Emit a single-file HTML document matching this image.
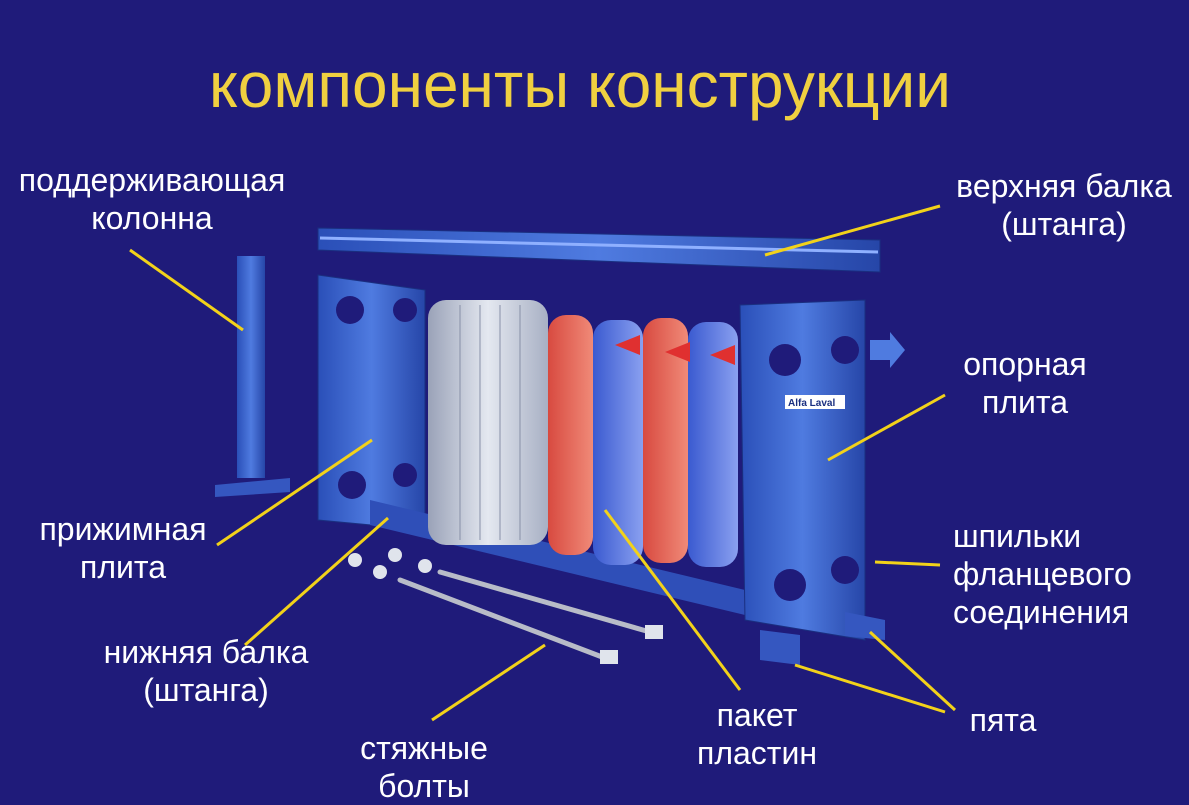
<!DOCTYPE html>
<html><head><meta charset="utf-8"><style>
html,body{margin:0;padding:0;width:1189px;height:797px;overflow:hidden;background:#1f1b7a;}
.t{position:absolute;font-family:"Liberation Sans",sans-serif;color:#fff;font-size:32px;line-height:38px;text-align:center;white-space:nowrap}
</style></head><body>
<svg width="1189" height="797" style="position:absolute;left:0;top:0">
<defs>
<linearGradient id="bl" x1="0" x2="1"><stop offset="0" stop-color="#2a4fb8"/><stop offset="0.5" stop-color="#4f7be0"/><stop offset="1" stop-color="#2646a8"/></linearGradient>
<linearGradient id="gr" x1="0" x2="1"><stop offset="0" stop-color="#9aa2b8"/><stop offset="0.5" stop-color="#e4e8f0"/><stop offset="1" stop-color="#a8b0c4"/></linearGradient>
<linearGradient id="rd" x1="0" x2="1"><stop offset="0" stop-color="#d84a40"/><stop offset="1" stop-color="#f08a78"/></linearGradient>
<linearGradient id="bb" x1="0" x2="1"><stop offset="0" stop-color="#3a5ad0"/><stop offset="1" stop-color="#8aa0f0"/></linearGradient>
</defs>
<polygon points="318,228 880,240 880,272 318,250" fill="url(#bl)" stroke="#1a2f80"/>
<line x1="320" y1="238" x2="878" y2="252" stroke="#8fb0ff" stroke-width="3"/>
<rect x="237" y="256" width="28" height="222" fill="url(#bl)"/>
<polygon points="215,485 290,478 290,492 215,497" fill="#3557c0"/>
<polygon points="318,275 425,290 425,530 318,520" fill="url(#bl)" stroke="#1a2f80"/>
<circle cx="350" cy="310" r="14" fill="#1f1b7a"/><circle cx="405" cy="310" r="12" fill="#1f1b7a"/>
<circle cx="352" cy="485" r="14" fill="#1f1b7a"/><circle cx="405" cy="475" r="12" fill="#1f1b7a"/>
<polygon points="370,500 745,590 745,615 370,525" fill="#2f4fb8"/>
<rect x="428" y="300" width="120" height="245" rx="18" fill="url(#gr)"/>
<g stroke="#8890a8" stroke-width="1"><line x1="460" y1="305" x2="460" y2="540"/><line x1="480" y1="305" x2="480" y2="540"/><line x1="500" y1="305" x2="500" y2="540"/><line x1="520" y1="305" x2="520" y2="540"/></g>
<rect x="548" y="315" width="45" height="240" rx="18" fill="url(#rd)"/>
<rect x="593" y="320" width="50" height="245" rx="18" fill="url(#bb)"/>
<rect x="643" y="318" width="45" height="245" rx="18" fill="url(#rd)"/>
<rect x="688" y="322" width="50" height="245" rx="18" fill="url(#bb)"/>
<g fill="#e03030"><polygon points="615,345 640,335 640,355"/><polygon points="665,352 690,342 690,362"/><polygon points="710,355 735,345 735,365"/><polygon points="800,365 830,355 830,375"/><polygon points="830,590 800,580 800,600"/></g>
<polygon points="740,305 865,300 865,640 745,620" fill="url(#bl)" stroke="#1a2f80"/>
<circle cx="785" cy="360" r="16" fill="#1f1b7a"/><circle cx="845" cy="350" r="14" fill="#1f1b7a"/>
<circle cx="790" cy="585" r="16" fill="#1f1b7a"/><circle cx="845" cy="570" r="14" fill="#1f1b7a"/>
<rect x="785" y="395" width="60" height="14" fill="#fff"/>
<text x="788" y="406" font-family="Liberation Sans" font-size="10" font-weight="bold" fill="#1a2f80">Alfa Laval</text>
<polygon points="870,340 890,340 890,332 905,350 890,368 890,360 870,360" fill="#4f7be0"/>
<polygon points="760,630 800,635 800,665 760,660" fill="#3557c0"/>
<polygon points="845,612 885,620 885,640 845,636" fill="#3557c0"/>
<g stroke="#b8bcc8" stroke-width="5" stroke-linecap="round"><line x1="400" y1="580" x2="610" y2="660"/><line x1="440" y1="572" x2="650" y2="632"/></g>
<g fill="#e0e4ec"><circle cx="355" cy="560" r="7"/><circle cx="395" cy="555" r="7"/><circle cx="380" cy="572" r="7"/><circle cx="425" cy="566" r="7"/><rect x="600" y="650" width="18" height="14"/><rect x="645" y="625" width="18" height="14"/></g>
<g stroke="#f2d21a" stroke-width="3" fill="none">
<line x1="130" y1="250" x2="243" y2="330"/>
<line x1="940" y1="206" x2="765" y2="255"/>
<line x1="945" y1="395" x2="828" y2="460"/>
<line x1="940" y1="565" x2="875" y2="562"/>
<line x1="955" y1="710" x2="870" y2="632"/>
<line x1="945" y1="712" x2="795" y2="665"/>
<line x1="740" y1="690" x2="605" y2="510"/>
<line x1="432" y1="720" x2="545" y2="645"/>
<line x1="245" y1="645" x2="388" y2="518"/>
<line x1="217" y1="545" x2="372" y2="440"/>
</g>
</svg>
<div class="t" style="left:0;width:1160px;top:48px;font-size:64px;line-height:74px;color:#f0d040">компоненты конструкции</div>
<div class="t" style="left:2px;width:300px;top:161px">поддерживающая<br>колонна</div>
<div class="t" style="left:934px;width:260px;top:167px">верхняя балка<br>(штанга)</div>
<div class="t" style="left:925px;width:200px;top:345px">опорная<br>плита</div>
<div class="t" style="left:953px;width:240px;top:517px;text-align:left">шпильки<br>фланцевого<br>соединения</div>
<div class="t" style="left:13px;width:220px;top:510px">прижимная<br>плита</div>
<div class="t" style="left:76px;width:260px;top:633px">нижняя балка<br>(штанга)</div>
<div class="t" style="left:677px;width:160px;top:696px">пакет<br>пластин</div>
<div class="t" style="left:923px;width:160px;top:701px">пята</div>
<div class="t" style="left:324px;width:200px;top:729px">стяжные<br>болты</div>
</body></html>
